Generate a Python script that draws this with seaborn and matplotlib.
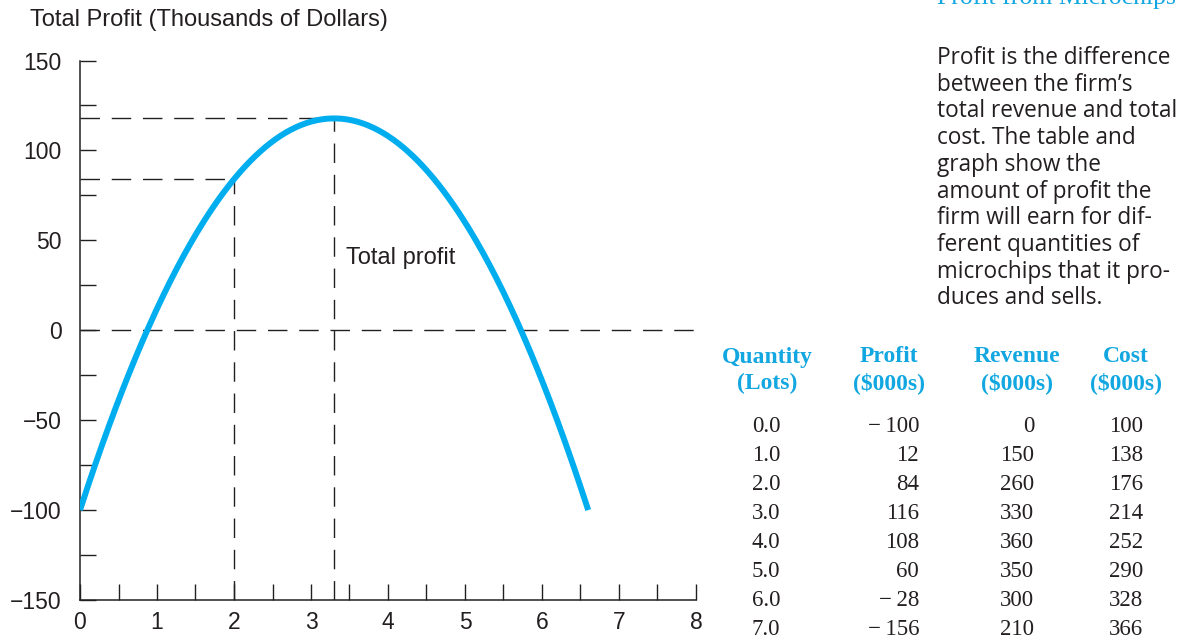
import numpy as np
import pandas as pd
import seaborn as sns
import matplotlib.pyplot as plt

# table data
quantity = [0.0, 1.0, 2.0, 3.0, 4.0, 5.0, 6.0, 7.0]
profit = [-100, 12, 84, 116, 108, 60, -28, -156]
revenue = [0, 150, 260, 330, 360, 350, 300, 210]
cost = [100, 138, 176, 214, 252, 290, 328, 366]

curve_end = 6.6       # where the drawn curve stops
marked_q = 2.0        # quantity with dashed guide lines

x_ticks = [0, 1, 2, 3, 4, 5, 6, 7, 8]
y_ticks = [-150, -100, -50, 0, 50, 100, 150]

note_lines = ["Profit is the difference", "between the firm\u2019s",
              "total revenue and total", "cost. The table and",
              "graph show the", "amount of profit the",
              "firm will earn for dif-", "ferent quantities of",
              "microchips that it pro-", "duces and sells."]

CYAN = "#00aeef"
HEAD = "#12a7e0"
DARK = "#231f20"
W, H = 1179, 642


def fx(px):
    return px / W


def fy(py):
    return 1 - py / H


def fmt(v, gap=""):
    s = str(v)
    if s.startswith("-"):
        s = "\u2212" + gap + s[1:]
    return s


sns.set_style("ticks")
plt.rcParams["font.family"] = ["Liberation Sans", "DejaVu Sans"]

fig = plt.figure(figsize=(W / 100, H / 100), dpi=100)
ax = fig.add_axes([fx(80), fy(600), fx(696) - fx(80), fy(60.5) - fy(600)])

# fit the profit table with a quadratic and draw the curve
coef = np.polyfit(quantity, profit, 2)
q_curve = np.linspace(0, curve_end, 300)
curve = pd.DataFrame({"q": q_curve, "p": np.polyval(coef, q_curve)})
sns.lineplot(data=curve, x="q", y="p", color=CYAN, lw=4.3, ax=ax,
             solid_capstyle="butt", zorder=3)

q_peak = -coef[1] / (2 * coef[0])
p_peak = np.polyval(coef, q_peak)
p_mark = np.polyval(coef, marked_q)

dash = dict(color=DARK, lw=1.0, dashes=(14, 8.5), zorder=2)
ax.plot([0, 8], [0, 0], **dash)
ax.plot([0, q_peak], [p_peak, p_peak], **dash)
ax.plot([q_peak, q_peak], [-150, p_peak], **dash)
ax.plot([0, marked_q], [p_mark, p_mark], **dash)
ax.plot([marked_q, marked_q], [-150, p_mark], **dash)

ax.text(3.45, 40, "Total profit", fontsize=17, color=DARK, va="center")

ax.set_xlim(0, 8)
ax.set_ylim(-150, 150)
ax.set_xticks(x_ticks)
ax.set_xticks(np.arange(0.5, 8, 1), minor=True)
ax.set_yticks(y_ticks)
ax.set_yticks(np.arange(-125, 150, 50), minor=True)
ax.set_yticklabels([fmt(v) for v in y_ticks])
ax.tick_params(which="both", direction="in", length=11.5, width=1.0,
               color=DARK, labelsize=16.5, labelcolor=DARK)
ax.tick_params(axis="y", which="both", pad=13)
ax.tick_params(axis="x", which="both", pad=8)
ax.set_xlabel("")
ax.set_ylabel("")
sns.despine(ax=ax)
for s in ["left", "bottom"]:
    ax.spines[s].set_color(DARK)
    ax.spines[s].set_linewidth(1.1)

fig.text(fx(30), fy(20), "Total Profit (Thousands of Dollars)", fontsize=17,
         color=DARK, va="center", ha="left")

# side title, partly cut off at the top edge
fig.text(fx(937), fy(4), "Profit from Microchips", fontsize=18.5, color=HEAD,
         family="Liberation Serif", va="baseline", ha="left")

for i, line in enumerate(note_lines):
    fig.text(fx(937), fy(58 + i * 26.7), line, fontsize=16.3, color=DARK,
             family="Open Sans", va="center", ha="left")

# table
headers = [("Quantity", "(Lots)", 767), ("Profit", "($000s)", 889),
           ("Revenue", "($000s)", 1017), ("Cost", "($000s)", 1126)]
for top, bottom, cx in headers:
    fig.text(fx(cx), fy(357), top, fontsize=17, color=HEAD, weight="bold",
             family="Liberation Serif", ha="center", va="center")
    fig.text(fx(cx), fy(383), bottom, fontsize=17, color=HEAD, weight="bold",
             family="Liberation Serif", ha="center", va="center")

cell = dict(fontsize=16.5, color=DARK, family="Liberation Serif", va="center")
for i in range(len(quantity)):
    yy = fy(426 + i * 29.1)
    fig.text(fx(766), yy, f"{quantity[i]:.1f}", ha="center", **cell)
    fig.text(fx(919), yy, fmt(profit[i], "\u2009"), ha="right", **cell)
    fig.text(fx(1034), yy, fmt(revenue[i]), ha="right", **cell)
    fig.text(fx(1143), yy, fmt(cost[i]), ha="right", **cell)

fig.savefig("out.png", dpi=100)
